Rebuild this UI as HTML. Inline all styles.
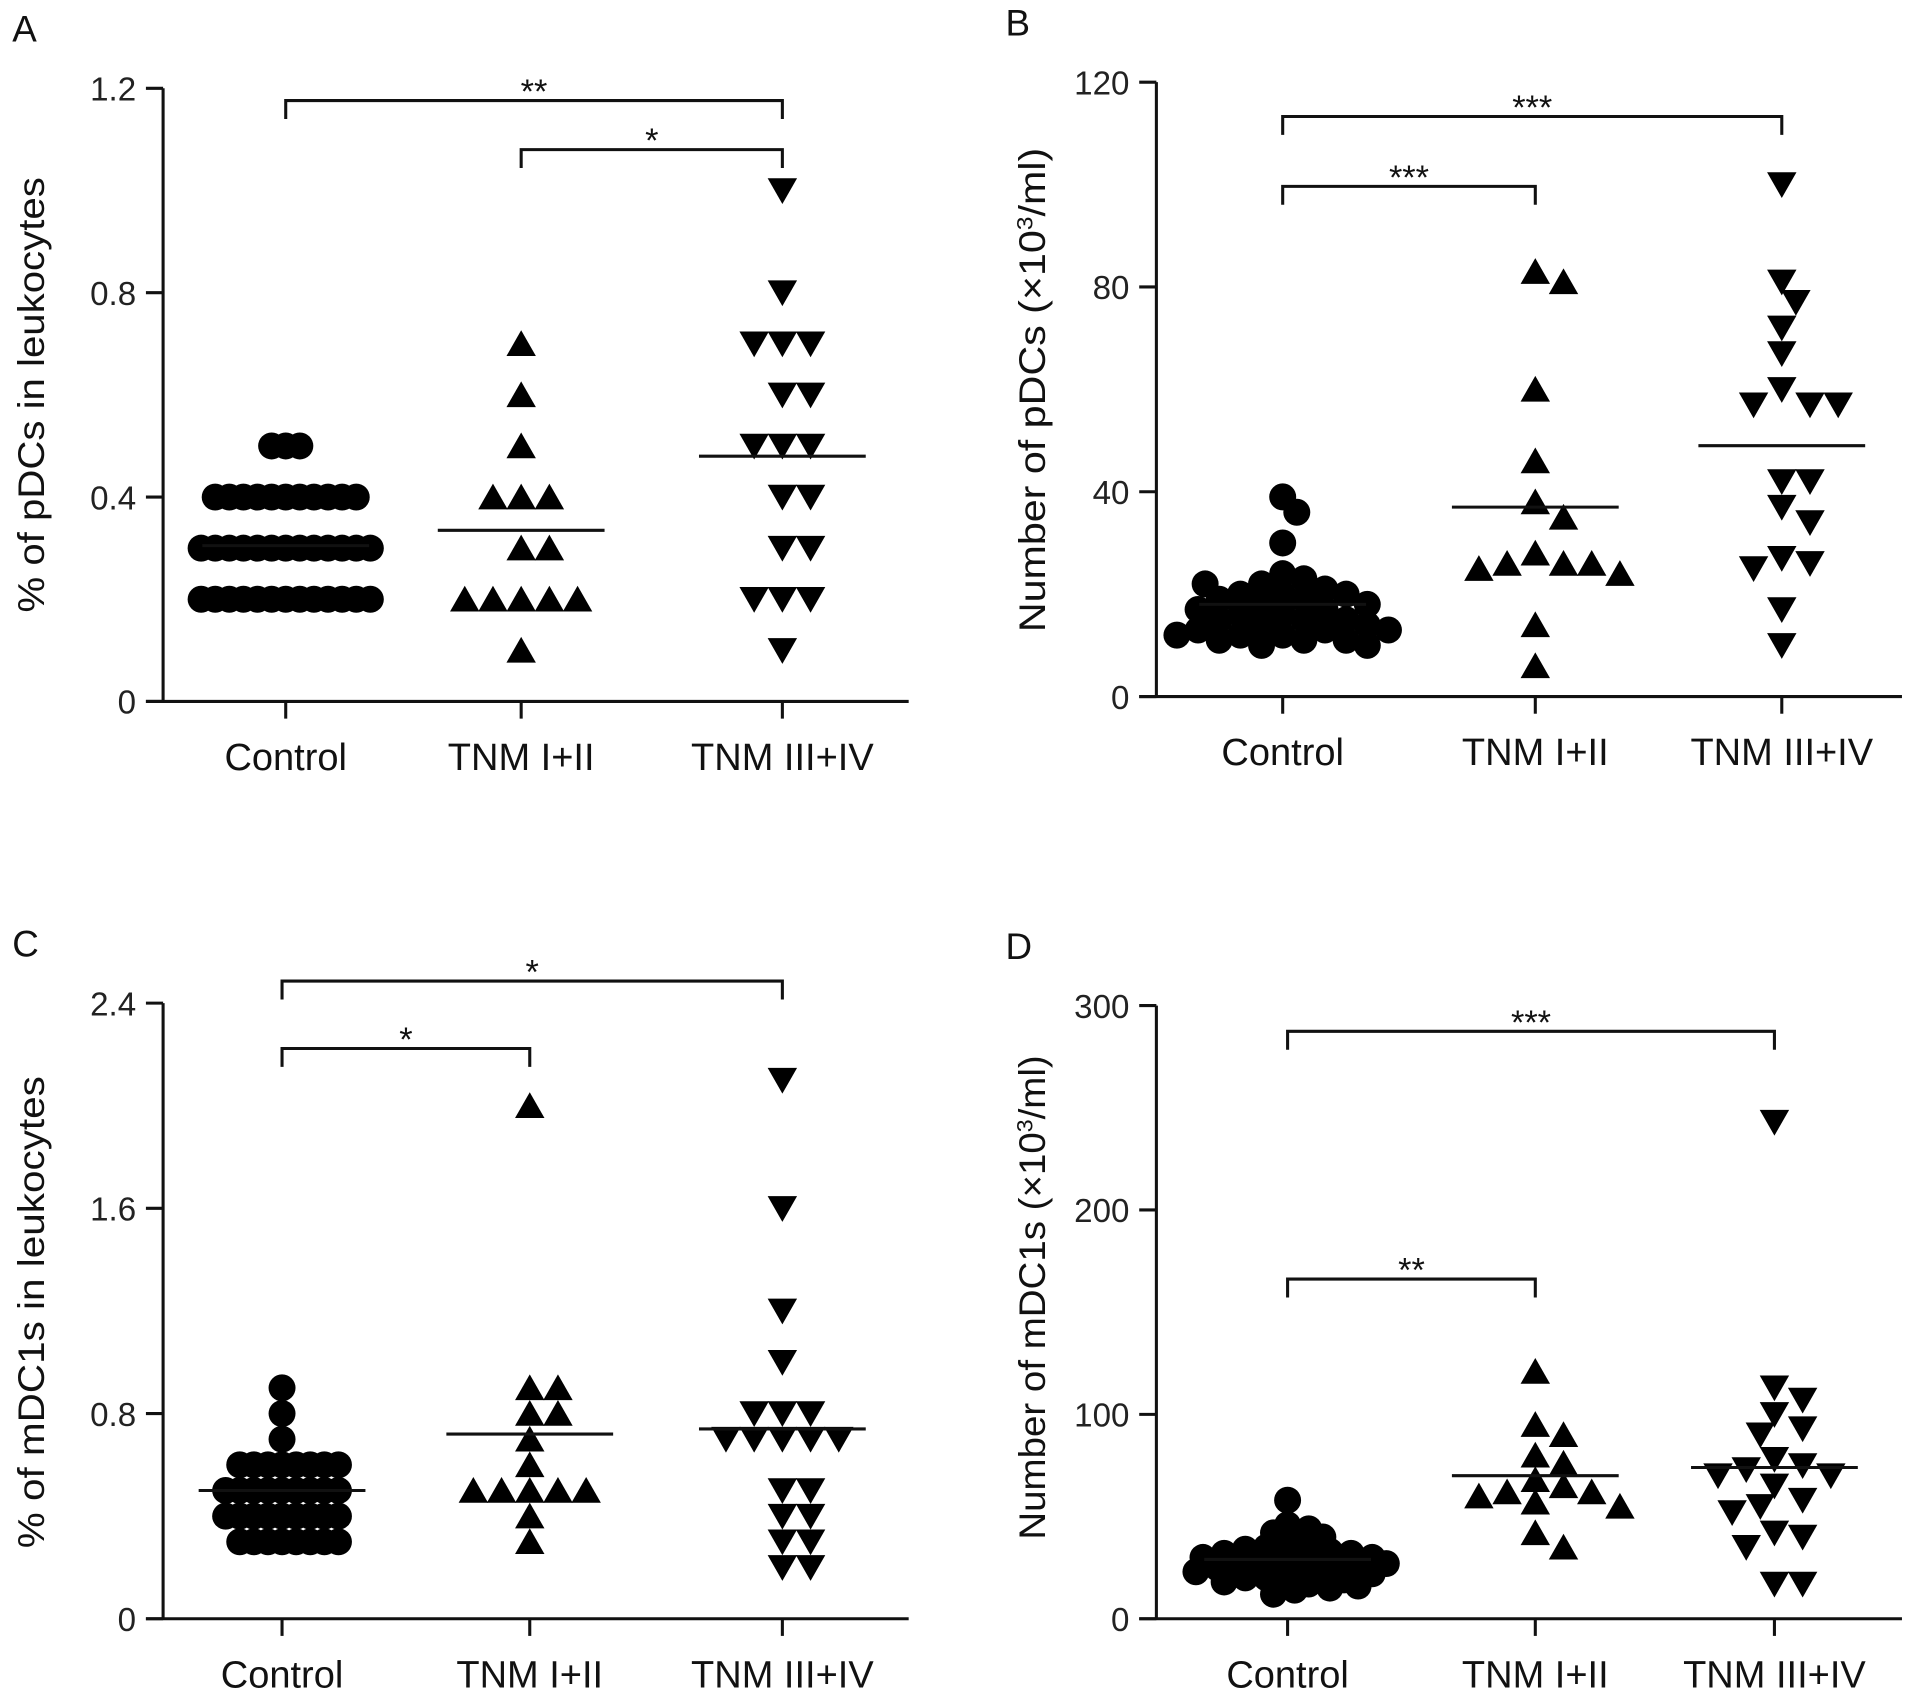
<!DOCTYPE html>
<html><head><meta charset="utf-8"><style>
html,body{margin:0;padding:0;background:#fff;}
svg{display:block;font-family:"Liberation Sans",Arial,sans-serif;}
</style></head>
<body>
<svg id="fig" width="1913" height="1696" viewBox="0 0 1560 1383" preserveAspectRatio="none" xmlns="http://www.w3.org/2000/svg"></svg>
<script>
const categories = ["Control", "TNM I+II", "TNM III+IV"];
const aControl = [0.5,0.5,0.5,0.4,0.4,0.4,0.4,0.4,0.4,0.4,0.4,0.4,0.4,0.4,0.3,0.3,0.3,0.3,0.3,0.3,0.3,0.3,0.3,0.3,0.3,0.3,0.3,0.2,0.2,0.2,0.2,0.2,0.2,0.2,0.2,0.2,0.2,0.2,0.2,0.2];
const aEarly = [0.7,0.6,0.5,0.4,0.4,0.4,0.3,0.3,0.2,0.2,0.2,0.2,0.2,0.1];
const aLate = [1.0,0.8,0.7,0.7,0.7,0.6,0.6,0.5,0.5,0.5,0.4,0.4,0.3,0.3,0.2,0.2,0.2,0.1];
const aMeans = [0.305,0.335,0.48];
const aTicks = [0,0.4,0.8,1.2];
const aTickLabels = ["0","0.4","0.8","1.2"];

const bControl = [39,36,30,24,23,22,21,20,20,20,19,19,18,18,17,17,16,16,15,15,15,14,14,13,13,13,12,12,12,11,11,11,10,10,22];
const bEarly = [83,81,60,46,38,35,28,26,26,26,25,24,14,6];
const bLate = [100,81,77,72,67,60,57,57,57,42,42,37,34,27,26,25,17,10];
const bMeans = [18,37,49];
const bTicks = [0,40,80,120];
const bTickLabels = ["0","40","80","120"];

const cControl = [0.9,0.8,0.7,0.6,0.6,0.6,0.6,0.6,0.6,0.6,0.6,0.5,0.5,0.5,0.5,0.5,0.5,0.5,0.5,0.5,0.4,0.4,0.4,0.4,0.4,0.4,0.4,0.4,0.4,0.3,0.3,0.3,0.3,0.3,0.3,0.3,0.3];
const cEarly = [2.0,0.9,0.9,0.8,0.8,0.7,0.6,0.5,0.5,0.5,0.5,0.5,0.4,0.3];
const cLate = [2.1,1.6,1.2,1.0,0.8,0.8,0.8,0.7,0.7,0.7,0.7,0.7,0.5,0.5,0.4,0.4,0.3,0.3,0.2,0.2];
const cMeans = [0.5,0.72,0.74];
const cTicks = [0,0.8,1.6,2.4];
const cTickLabels = ["0","0.8","1.6","2.4"];

const dControl = [58,46,44,42,40,38,36,35,34,33,32,32,31,30,30,29,28,28,27,27,26,25,25,24,23,22,22,21,20,20,19,18,17,16,15,14,12];
const dEarly = [121,95,90,80,76,68,65,62,62,60,57,55,42,35];
const dLate = [243,113,107,100,93,90,78,75,73,70,70,65,58,55,52,42,40,35,17,17];
const dMeans = [29,70,74];
const dTicks = [0,100,200,300];
const dTickLabels = ["0","100","200","300"];

const NS="http://www.w3.org/2000/svg";
const svg=document.getElementById('fig');
function mk(tag,attrs,parent){const e=document.createElementNS(NS,tag);for(const k in attrs)e.setAttribute(k,attrs[k]);(parent||svg).appendChild(e);return e;}

function panel(p){
  const g=mk('g',{});
  
  
  const y=v=>p.y0-(v/p.ymax)*(p.y0-p.ytop);
  const xs=p.cx;
  const L=mk('text',{x:p.ax-123,y:p.ytop-38,'font-size':30,fill:'#111'},g);L.textContent=p.letter;
  
  
  const ya=mk('line',{x1:p.ax,y1:p.ytop,x2:p.ax,y2:p.y0,stroke:'#111','stroke-width':2.5},g);
  
  
  const xa=mk('line',{x1:p.ax-14,y1:p.y0,x2:p.ax+608,y2:p.y0,stroke:'#111','stroke-width':2.5},g);
  
  
  p.ticks.forEach((t,i)=>{
    mk('line',{x1:p.ax-14,y1:y(t),x2:p.ax,y2:y(t),stroke:'#111','stroke-width':2.5},g);
    const tx=mk('text',{x:p.ax-22,y:y(t)+10,'font-size':27,'text-anchor':'end',fill:'#222'},g);
    tx.textContent=p.tickLabels[i];
    
    
  });
  categories.forEach((c,i)=>{
    mk('line',{x1:xs[i],y1:p.y0,x2:xs[i],y2:p.y0+14,stroke:'#111','stroke-width':2.5},g);
    const tx=mk('text',{x:xs[i],y:p.y0+56,'font-size':31,'text-anchor':'middle',fill:'#111'},g);
    tx.textContent=c;
    
    
  });
  const yt=mk('text',{transform:`translate(${p.tx},${p.tcy}) rotate(-90)`,'font-size':30,'text-anchor':'middle',fill:'#111',textLength:p.tlen,lengthAdjust:'spacingAndGlyphs'},g);
  yt.innerHTML=p.title;
  
  
  const series=[p.s0,p.s1,p.s2];
  const shapes=['circle','up','down'];
  series.forEach((vals,si)=>{
    const placed=[];
    const circ=shapes[si]==='circle';
    const minD=circ?p.circD:22.5, step=circ?11.5:23;
    vals.forEach(v=>{
      const py=y(v);let k=0,px;
      while(true){
        const off=(k===0?0:(k%2?1:-1)*Math.ceil(k/2))*step*0.5;
        px=xs[si]+off;
        if(placed.every(q=>Math.hypot(q[0]-px,(q[1]-py)*(circ?1:1.3))>=minD))break;
        k++; if(k>200)break;
      }
      placed.push([px,py]);
      let m;
      if(circ) m=mk('circle',{cx:px,cy:py,r:11,fill:'#000'},g);
      else if(shapes[si]==='up') m=mk('polygon',{points:`${px-12},${py+10} ${px+12},${py+10} ${px},${py-11}`,fill:'#000'},g);
      else m=mk('polygon',{points:`${px-12},${py-10} ${px+12},${py-10} ${px},${py+11}`,fill:'#000'},g);
      
      
    });
    const ml=mk('line',{x1:xs[si]-68,y1:y(p.means[si]),x2:xs[si]+68,y2:y(p.means[si]),stroke:'#111','stroke-width':2.5},g);
    
    
  });
  p.brackets.forEach(b=>{
    const x1=xs[b[0]],x2=xs[b[1]],by=b[2];
    const br=mk('path',{d:`M${x1},${by+15}V${by}H${x2}V${by+15}`,fill:'none',stroke:'#111','stroke-width':2.5},g);
    
    
    const st=mk('text',{x:(x1+x2)/2,y:by+2,'font-size':28,'text-anchor':'middle',fill:'#111'},g);
    st.textContent=b[3];
    
    
  });
}
panel({letter:'A',ax:133,y0:572,ytop:72,ymax:1.2,cx:[233,425,638],ticks:aTicks,tickLabels:aTickLabels,circD:10.5,
  s0:aControl,s1:aEarly,s2:aLate,means:aMeans,title:'% of  pDCs in leukocytes',tx:36,tcy:322,tlen:355,
  brackets:[[0,2,82,'**'],[1,2,122,'*']]});
panel({letter:'B',ax:943,y0:568,ytop:67,ymax:120,cx:[1046,1252,1453],ticks:bTicks,tickLabels:bTickLabels,circD:15,
  s0:bControl,s1:bEarly,s2:bLate,means:bMeans,title:'Number of pDCs (×10<tspan dy="-10" font-size="18">3</tspan><tspan dy="10">/ml)</tspan>',tx:852,tcy:318,tlen:395,
  brackets:[[0,2,95,'***'],[0,1,152,'***']]});
panel({letter:'C',ax:133,y0:1320,ytop:818,ymax:2.4,cx:[230,432,638],ticks:cTicks,tickLabels:cTickLabels,circD:10.5,
  s0:cControl,s1:cEarly,s2:cLate,means:cMeans,title:'% of  mDC1s in leukocytes',tx:36,tcy:1070,tlen:385,
  brackets:[[0,2,800,'*'],[0,1,855,'*']]});
panel({letter:'D',ax:943,y0:1320,ytop:820,ymax:300,cx:[1050,1252,1447],ticks:dTicks,tickLabels:dTickLabels,circD:12.5,
  s0:dControl,s1:dEarly,s2:dLate,means:dMeans,title:'Number of mDC1s (×10<tspan dy="-10" font-size="18">3</tspan><tspan dy="10">/ml)</tspan>',tx:852,tcy:1058,tlen:395,
  brackets:[[0,2,841,'***'],[0,1,1043,'**']]});
</script>
</body></html>
